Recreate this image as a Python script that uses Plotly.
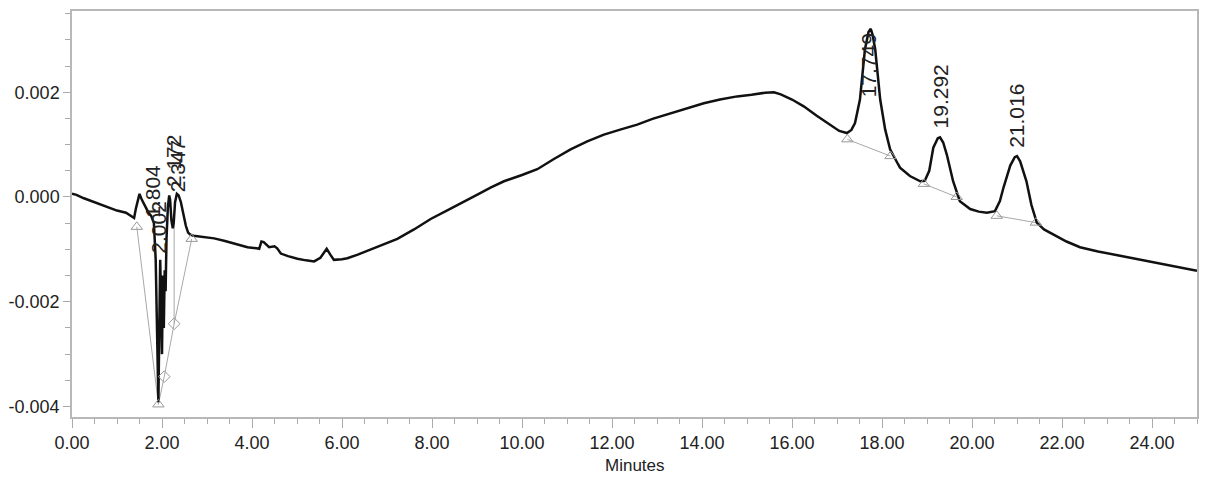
import plotly.graph_objects as go

# ---- chromatogram trace (minutes, AU) ----
time_min = [0.00, 0.10, 0.25, 0.50, 0.75, 1.00, 1.20, 1.30, 1.38, 1.42, 1.46, 1.50, 1.55, 1.62,
            1.70, 1.76, 1.82, 1.86, 1.90, 1.92, 1.94, 1.96, 1.98, 2.00, 2.02, 2.04, 2.06, 2.08,
            2.10, 2.13, 2.16, 2.18, 2.21, 2.24, 2.26, 2.29, 2.33, 2.37, 2.42, 2.47, 2.53, 2.58,
            2.63, 2.70, 2.80, 3.00, 3.16, 3.40, 3.60, 3.90, 4.10, 4.16, 4.21, 4.26, 4.38, 4.50,
            4.56, 4.64, 4.80, 5.01, 5.20, 5.38, 5.52, 5.62, 5.66, 5.74, 5.82, 6.00, 6.12, 6.35,
            6.56, 6.90, 7.23, 7.60, 7.97, 8.35, 8.71, 9.04, 9.30, 9.60, 10.00, 10.34, 10.70,
            11.08, 11.45, 11.82, 12.20, 12.56, 12.90, 13.30, 13.70, 14.04, 14.40, 14.78, 15.10,
            15.40, 15.60, 15.75, 16.00, 16.26, 16.55, 16.85, 17.05, 17.22, 17.32, 17.40, 17.51,
            17.62, 17.70, 17.75, 17.79, 17.85, 17.96, 18.07, 18.18, 18.36, 18.40, 18.62, 18.85,
            18.95, 19.05, 19.14, 19.24, 19.29, 19.36, 19.44, 19.58, 19.73, 19.96, 20.15, 20.33,
            20.51, 20.62, 20.70, 20.85, 20.95, 21.00, 21.07, 21.21, 21.32, 21.44, 21.60, 21.80,
            22.10, 22.40, 22.80, 23.29, 23.70, 24.03, 24.50, 25.00]
signal_au = [0.00006, 0.00004, -0.00002, -0.00010, -0.00018, -0.00026, -0.00030, -0.00036,
             -0.00040, -0.00022, -0.00005, 0.00006, -0.00005, -0.00018, -0.00030, -0.00036,
             -0.00050, -0.00120, -0.00330, -0.00392, -0.00250, -0.00120, -0.00200, -0.00300,
             -0.00150, -0.00250, -0.00140, -0.00180, -0.00080, -0.00020, 0.00003, -0.00005,
             -0.00045, -0.00060, -0.00050, -0.00010, 0.00006, 0.00003, -0.00010, -0.00030,
             -0.00055, -0.00068, -0.00072, -0.00074, -0.00075, -0.00078, -0.00079, -0.00084,
             -0.00089, -0.00096, -0.00098, -0.00099, -0.00085, -0.00086, -0.00096, -0.00094,
             -0.00098, -0.00108, -0.00113, -0.00118, -0.00121, -0.00123, -0.00116, -0.00102,
             -0.00099, -0.00110, -0.00120, -0.00119, -0.00117, -0.00110, -0.00103, -0.00092,
             -0.00080, -0.00062, -0.00042, -0.00025, -0.00008, 0.00006, 0.00018, 0.00030,
             0.00042, 0.00053, 0.00072, 0.00091, 0.00106, 0.00119, 0.00129, 0.00138, 0.00149,
             0.00160, 0.00170, 0.00179, 0.00186, 0.00192, 0.00195, 0.00199, 0.00200, 0.00196,
             0.00186, 0.00173, 0.00155, 0.00138, 0.00126, 0.00122, 0.00128, 0.00141, 0.00186,
             0.00281, 0.00315, 0.00321, 0.00310, 0.00281, 0.00186, 0.00129, 0.00091, 0.00062,
             0.00056, 0.00040, 0.00030, 0.00031, 0.00050, 0.00094, 0.00112, 0.00114, 0.00104,
             0.00081, 0.00030, -0.00008, -0.00023, -0.00028, -0.00030, -0.00027, -0.00008,
             0.00018, 0.00060, 0.00076, 0.00078, 0.00068, 0.00030, -0.00015, -0.00049,
             -0.00062, -0.00071, -0.00085, -0.00096, -0.00104, -0.00112, -0.00119, -0.00125,
             -0.00133, -0.00141]

# ---- integration markers ----
left_base_t = [1.44, 1.92, 2.05, 2.27, 2.66]
left_base_v = [-0.00057, -0.00396, -0.00343, -0.00242, -0.00080]
drop_t = [2.27, 2.27]
drop_v = [-0.00242, -0.00052]
triangle_t = [1.44, 1.92, 2.66, 17.23, 18.19, 18.93, 19.66, 20.55, 21.42]
triangle_v = [-0.00057, -0.00396, -0.00080, 0.00110, 0.00078, 0.00025, 0.00000, -0.00036, -0.00049]
diamond_t = [2.05, 2.27]
diamond_v = [-0.00343, -0.00242]
seg_start_t = [17.23, 18.93, 20.55]
seg_start_v = [0.00110, 0.00025, -0.00036]
seg_end_t = [18.19, 19.66, 21.42]
seg_end_v = [0.00078, 0.00000, -0.00049]

# ---- peak labels ----
peak_labels = ["1.804", "2.002", "2.172", "2.347", "17.749", "19.292", "21.016"]
label_t = [1.79, 1.93, 2.24, 2.35, 17.72, 19.29, 20.99]
label_v = [0.00011, -0.00057, 0.00070, 0.00060, 0.00252, 0.00192, 0.00154]

# ---- axis ticks ----
x_tickvals = [0, 2, 4, 6, 8, 10, 12, 14, 16, 18, 20, 22, 24]
x_ticktext = ["0.00", "2.00", "4.00", "6.00", "8.00", "10.00", "12.00", "14.00",
              "16.00", "18.00", "20.00", "22.00", "24.00"]
y_tickvals = [-0.004, -0.002, 0.0, 0.002]
y_ticktext = ["-0.004", "-0.002", "0.000", "0.002"]

GRAY = "#a8a8a8"
FONT = "Liberation Sans, Arial, sans-serif"

fig = go.Figure()

# baseline segments
fig.add_trace(go.Scatter(x=left_base_t, y=left_base_v, mode="lines",
                         line=dict(color=GRAY, width=1), hoverinfo="skip"))
fig.add_trace(go.Scatter(x=drop_t, y=drop_v, mode="lines",
                         line=dict(color=GRAY, width=1), hoverinfo="skip"))
for t0, v0, t1, v1 in zip(seg_start_t, seg_start_v, seg_end_t, seg_end_v):
    fig.add_trace(go.Scatter(x=[t0, t1], y=[v0, v1], mode="lines",
                             line=dict(color=GRAY, width=1), hoverinfo="skip"))

# main trace
fig.add_trace(go.Scatter(x=time_min, y=signal_au, mode="lines",
                         line=dict(color="#111111", width=2.5)))

# markers
fig.add_trace(go.Scatter(x=triangle_t, y=triangle_v, mode="markers",
                         marker=dict(symbol="triangle-up-open", size=10, color="#999999",
                                     line=dict(width=1))))
fig.add_trace(go.Scatter(x=diamond_t, y=diamond_v, mode="markers",
                         marker=dict(symbol="diamond-open", size=9, color="#999999",
                                     line=dict(width=1))))

for txt, t, v in zip(peak_labels, label_t, label_v):
    fig.add_annotation(x=t, y=v, text=txt, textangle=-90, showarrow=False,
                       font=dict(family=FONT, size=21, color="#222222"),
                       xanchor="center", yanchor="middle")

fig.add_annotation(x=0.5, y=-0.12, xref="paper", yref="paper", text="Minutes",
                   showarrow=False, font=dict(family=FONT, size=17, color="#222222"),
                   xanchor="center", yanchor="middle")

fig.update_layout(
    width=1208, height=479,
    margin=dict(l=71, r=10, t=9, b=62),
    plot_bgcolor="white", paper_bgcolor="white",
    showlegend=False,
    font=dict(family=FONT, size=18, color="#222222"),
)
fig.update_xaxes(
    range=[0, 25], tickmode="array", tickvals=x_tickvals, ticktext=x_ticktext,
    ticks="outside", ticklen=9, tickcolor="#aaaaaa", tickwidth=1,
    minor=dict(tickmode="linear", tick0=0, dtick=0.5, ticks="outside", ticklen=5,
               tickcolor="#aaaaaa", tickwidth=1),
    showline=True, linecolor="#b8b8b8", linewidth=1.5, mirror=True,
    showgrid=False, zeroline=False,
    tickfont=dict(family=FONT, size=18, color="#222222"),
)
fig.update_yaxes(
    range=[-0.0042, 0.00355], tickmode="array", tickvals=y_tickvals, ticktext=y_ticktext,
    ticks="outside", ticklen=7, tickcolor="#aaaaaa", tickwidth=1,
    minor=dict(tickmode="linear", tick0=0, dtick=0.0005, ticks="outside", ticklen=5,
               tickcolor="#aaaaaa", tickwidth=1),
    showline=True, linecolor="#b8b8b8", linewidth=1.5, mirror=True,
    showgrid=False, zeroline=False,
    tickfont=dict(family=FONT, size=18, color="#222222"),
)

fig.write_html("out.html")
